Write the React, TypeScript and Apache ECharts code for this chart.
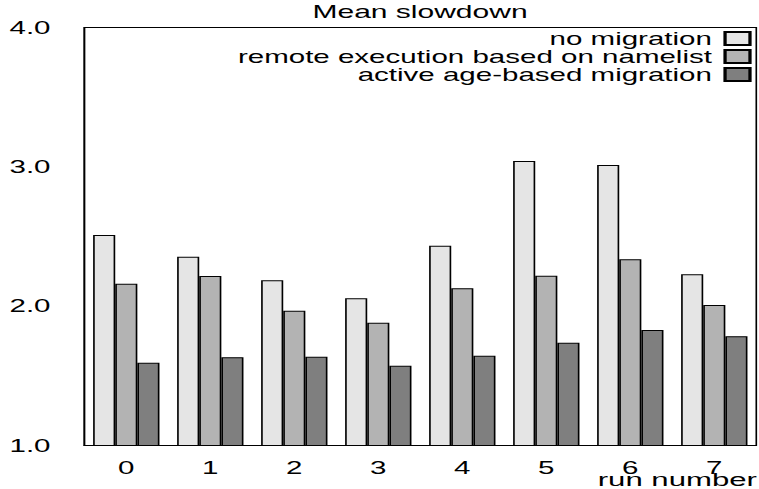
import React, { useEffect, useRef } from "react";
import * as echarts from "echarts";

// Run numbers on the category axis
const runs = ["0", "1", "2", "3", "4", "5", "6", "7"];

// Mean slowdown per run for each scheduling policy
const noMigration = [2.51, 2.355, 2.186, 2.056, 2.434, 3.042, 3.013, 2.229];
const remoteExecution = [2.161, 2.217, 1.968, 1.881, 2.128, 2.219, 2.336, 2.008];
const activeMigration = [1.594, 1.633, 1.637, 1.573, 1.645, 1.738, 1.829, 1.784];

const seriesNames = [
  "no migration",
  "remote execution based on namelist",
  "active age-based migration",
];

const yTicks = { min: 1, max: 4, interval: 1 };
const xAxisTitle = "run number";

// The whole figure is laid out narrow and stretched horizontally
const STRETCH = 1.64;
const OUT_W = 759;
const OUT_H = 489;
const IN_W = OUT_W / STRETCH;

const FONT = "'Liberation Sans', Arial, Helvetica, sans-serif";

export default function App() {
  const ref = useRef<HTMLDivElement>(null);

  useEffect(() => {
    if (!ref.current) return;
    const chart = echarts.init(ref.current, undefined, {
      renderer: "svg",
      width: IN_W,
      height: OUT_H,
    });

    const barStyle = (color: string) => ({
      color,
      borderColor: "#000",
      borderWidth: 1,
    });

    chart.setOption({
      animation: false,
      backgroundColor: "#fff",
      textStyle: { fontFamily: FONT },
      title: {
        text: "Mean slowdown",
        left: 256.1,
        textAlign: "center",
        top: 3,
        padding: 0,
        textStyle: {
          fontFamily: FONT,
          fontSize: 18.3,
          fontWeight: "normal",
          color: "#000",
        },
      },
      legend: {
        data: seriesNames,
        orient: "vertical",
        right: 4.5,
        top: 29.5,
        padding: 0,
        align: "right",
        icon: "rect",
        itemWidth: 15.2,
        itemHeight: 13,
        itemGap: 0,
        textStyle: {
          fontFamily: FONT,
          fontSize: 18,
          lineHeight: 18,
          color: "#000",
          padding: [0, 3, 0, 0],
        },
      },
      graphic: [
        {
          type: "text",
          right: 1.2,
          bottom: 0,
          style: {
            text: xAxisTitle,
            fontFamily: FONT,
            fontSize: 19,
            fill: "#000",
          },
        },
      ],
      grid: {
        left: 51.4,
        right: 1.65,
        top: 27.5,
        bottom: 43.5,
        containLabel: false,
        outerBoundsMode: "none",
        show: true,
        borderColor: "#000",
        borderWidth: 1,
        backgroundColor: "transparent",
      },
      xAxis: {
        type: "category",
        data: runs,
        boundaryGap: true,
        axisLine: { show: true, lineStyle: { color: "#000", width: 1 } },
        axisTick: { show: false },
        axisLabel: {
          margin: 13.5,
          fontFamily: FONT,
          fontSize: 18,
          color: "#000",
        },
        splitLine: { show: false },
      },
      yAxis: {
        type: "value",
        min: yTicks.min,
        max: yTicks.max,
        interval: yTicks.interval,
        axisLine: { show: true, lineStyle: { color: "#000", width: 1 } },
        axisTick: { show: false },
        axisLabel: {
          margin: 20.6,
          fontFamily: FONT,
          fontSize: 18,
          color: "#000",
          formatter: (v: number) => v.toFixed(1),
        },
        splitLine: { show: false },
      },
      series: [
        {
          name: seriesNames[0],
          type: "bar",
          data: noMigration,
          barGap: "0%",
          barCategoryGap: "21%",
          itemStyle: barStyle("#e5e5e5"),
        },
        {
          name: seriesNames[1],
          type: "bar",
          data: remoteExecution,
          barGap: "0%",
          barCategoryGap: "21%",
          itemStyle: barStyle("#b3b3b3"),
        },
        {
          name: seriesNames[2],
          type: "bar",
          data: activeMigration,
          barGap: "0%",
          barCategoryGap: "21%",
          itemStyle: barStyle("#7f7f7f"),
        },
      ],
    });

    return () => {
      chart.dispose();
    };
  }, []);

  return (
    <div
      style={{
        position: "fixed",
        left: 0,
        top: 0,
        width: OUT_W,
        height: OUT_H,
        overflow: "hidden",
        background: "#fff",
      }}
    >
      <div
        ref={ref}
        style={{
          width: IN_W,
          height: OUT_H,
          transform: `scaleX(${STRETCH})`,
          transformOrigin: "0 0",
        }}
      />
    </div>
  );
}
